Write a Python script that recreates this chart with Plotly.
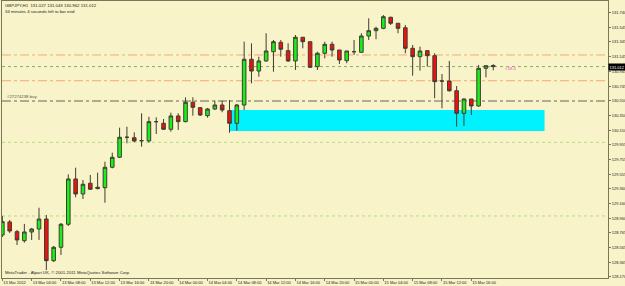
import plotly.graph_objects as go
import pandas as pd

# ---------------- data (GBPJPY H1) ----------------
start_time = "2012-03-13 00:00"
opens = [128.737, 128.913, 128.782, 128.660, 128.778, 128.818, 128.953, 128.390, 128.571, 128.882,
         129.494, 129.291, 129.436, 129.363, 129.376, 129.652, 129.787, 130.057, 130.051, 130.011,
         130.007, 130.268, 130.246, 130.165, 130.345, 130.268, 130.530, 130.457, 130.349, 130.439,
         130.493, 130.416, 130.246, 130.493, 131.111, 130.952, 131.088, 131.213, 131.340, 131.227,
         131.088, 131.408, 131.348, 131.011, 131.192, 131.313, 131.236, 131.092, 131.213, 131.205,
         131.425, 131.497, 131.529, 131.678, 131.597, 131.537, 131.259, 131.146, 131.227, 131.159,
         130.817, 130.817, 130.686, 130.381, 130.574, 130.480, 130.989, 131.027]
highs = [128.994, 128.940, 128.805, 128.886, 128.832, 129.106, 129.007, 128.589, 128.899, 129.557,
         129.646, 129.480, 129.548, 129.579, 129.727, 129.849, 130.187, 130.200, 130.124, 130.381,
         130.335, 130.327, 130.304, 130.389, 130.381, 130.597, 130.597, 130.466, 130.453, 130.551,
         130.551, 130.561, 130.507, 131.348, 131.327, 131.146, 131.462, 131.371, 131.371, 131.327,
         131.439, 131.408, 131.348, 131.213, 131.348, 131.348, 131.236, 131.223, 131.371, 131.462,
         131.664, 131.551, 131.709, 131.686, 131.597, 131.574, 131.304, 131.281, 131.236, 131.192,
         130.912, 131.088, 130.750, 130.584, 130.574, 131.034, 131.024, 131.043]
lows = [128.710, 128.764, 128.602, 128.633, 128.670, 128.670, 128.264, 128.372, 128.467, 128.859,
        129.246, 129.223, 129.345, 129.355, 129.173, 129.638, 129.777, 129.976, 129.989, 129.930,
        129.984, 130.101, 130.156, 130.133, 130.156, 130.260, 130.349, 130.345, 130.322, 130.426,
        130.395, 130.119, 130.146, 130.426, 130.786, 130.875, 131.078, 130.943, 131.146, 131.074,
        130.966, 131.259, 130.993, 130.966, 131.124, 131.146, 131.047, 131.057, 131.169, 131.200,
        131.371, 131.381, 131.516, 131.574, 131.462, 131.192, 130.889, 130.957, 131.011, 130.584,
        130.449, 130.673, 130.200, 130.210, 130.358, 130.470, 130.867, 130.962]
closes = [128.917, 128.791, 128.670, 128.778, 128.818, 128.953, 128.390, 128.571, 128.882, 129.494,
          129.291, 129.422, 129.355, 129.382, 129.652, 129.787, 130.057, 130.057, 130.007, 130.011,
          130.268, 130.268, 130.165, 130.345, 130.268, 130.530, 130.462, 130.358, 130.439, 130.493,
          130.426, 130.246, 130.493, 131.111, 130.952, 131.088, 131.223, 131.348, 131.246, 131.088,
          131.408, 131.348, 131.002, 131.192, 131.313, 131.236, 131.101, 131.223, 131.213, 131.425,
          131.497, 131.529, 131.686, 131.597, 131.529, 131.259, 131.146, 131.223, 131.159, 130.808,
          130.817, 130.686, 130.381, 130.574, 130.480, 130.989, 131.024, 131.012]

x_tick_hours = [0, 4, 8, 12, 16, 20, 24, 28, 32, 36, 40, 44, 48, 52, 56, 60, 64]
x_tick_labels = ["13 Mar 2012", "13 Mar 04:00", "13 Mar 08:00", "13 Mar 12:00", "13 Mar 16:00",
                 "13 Mar 20:00", "14 Mar 00:00", "14 Mar 04:00", "14 Mar 08:00", "14 Mar 12:00",
                 "14 Mar 16:00", "14 Mar 20:00", "15 Mar 00:00", "15 Mar 04:00", "15 Mar 08:00",
                 "15 Mar 12:00", "15 Mar 16:00"]
y_tick_values = [131.740, 131.545, 131.345, 131.145, 130.945, 130.745, 130.550, 130.350, 130.150,
                 129.955, 129.755, 129.555, 129.360, 129.160, 128.960, 128.765, 128.565, 128.365, 128.170]
y_tick_labels = ["%.3f" % v for v in y_tick_values]

current_price = 131.012
orange_levels = [131.169, 130.821]
order_level = 130.547
lightgreen_levels = [129.989, 128.994]
zone_low, zone_high = 130.142, 130.426
zone_start_hour, zone_end_hour = 31, 74

# ---------------- figure ----------------
t0 = pd.Timestamp(start_time)
times = pd.date_range(t0, periods=len(opens), freq="h")
hour = pd.Timedelta(hours=1)

BG = "#F8F3C8"
FRAME = "#77775A"
FONT = "Liberation Sans"

fig = go.Figure()

# demand zone rectangle
fig.add_shape(type="rect", xref="x", yref="y",
              x0=t0 + zone_start_hour * hour, x1=t0 + zone_end_hour * hour,
              y0=zone_low, y1=zone_high, fillcolor="#00F2FF", line=dict(width=0), layer="below")

line_shapes = []
for lv in orange_levels:
    line_shapes.append(dict(y=lv, color="#F5A878", dash="dashdot", width=1))
line_shapes.append(dict(y=order_level, color="#666655", dash="dashdot", width=1))
for lv in lightgreen_levels:
    line_shapes.append(dict(y=lv, color="#B5DA85", dash="dot", width=1))
line_shapes.append(dict(y=current_price, color="#7FAF6A", dash="dot", width=1))
for s in line_shapes:
    fig.add_shape(type="line", xref="paper", yref="y", x0=0, x1=1, y0=s["y"], y1=s["y"],
                  line=dict(color=s["color"], dash=s["dash"], width=s["width"]), layer="below")

fig.add_trace(go.Candlestick(
    x=times, open=opens, high=highs, low=lows, close=closes,
    increasing=dict(line=dict(color="#3E3E30", width=1), fillcolor="#19F019"),
    decreasing=dict(line=dict(color="#3E3E30", width=1), fillcolor="#F01010"),
    whiskerwidth=0, hoverinfo="skip", showlegend=False,
))

fig.update_layout(
    width=625, height=286,
    margin=dict(l=2, r=17, t=1, b=8, autoexpand=False),
    paper_bgcolor=BG, plot_bgcolor=BG,
    showlegend=False,
    font=dict(family=FONT, size=4, color="#222222"),
    xaxis=dict(
        type="date",
        range=[t0 - 0.05 * hour, t0 + 82.66 * hour],
        rangeslider=dict(visible=False),
        tickvals=[t0 + h * hour for h in x_tick_hours],
        ticktext=x_tick_labels,
        tickangle=0, automargin=False,
        ticks="outside", ticklen=2, tickcolor=FRAME,
        ticklabelposition="outside right",
        tickfont=dict(size=4, family=FONT, color="#222222"),
        showgrid=False, zeroline=False,
        showline=True, linecolor=FRAME, linewidth=1, mirror=True,
        fixedrange=True,
    ),
    yaxis=dict(
        side="right",
        range=[128.156, 131.898],
        tickvals=y_tick_values, ticktext=y_tick_labels,
        automargin=False,
        ticks="outside", ticklen=2, tickcolor=FRAME,
        tickfont=dict(size=4, family=FONT, color="#222222"),
        showgrid=False, zeroline=False,
        showline=True, linecolor=FRAME, linewidth=1, mirror=True,
        fixedrange=True,
    ),
)

ann = [
    dict(text="GBPJPY,H1  131.027 131.043 130.962 131.012", xref="paper", yref="paper",
         x=0.002, y=0.999, xanchor="left", yanchor="top", showarrow=False,
         font=dict(size=4.3, family=FONT, color="#222222")),
    dict(text="34 minutes 4 seconds left to bar end", xref="paper", yref="paper",
         x=0.002, y=0.978, xanchor="left", yanchor="top", showarrow=False,
         font=dict(size=4.3, family=FONT, color="#222222")),
    dict(text="MetaTrader - Alpari UK, \u00a9 2001-2011 MetaQuotes Software Corp.", xref="paper", yref="paper",
         x=0.002, y=0.003, xanchor="left", yanchor="bottom", showarrow=False,
         font=dict(size=4.3, family=FONT, color="#222222")),
    dict(text="#27274238 buy", xref="paper", yref="y",
         x=0.005, y=order_level, xanchor="left", yanchor="bottom", showarrow=False,
         font=dict(size=4.3, family=FONT, color="#555544")),
    dict(text="&lt;38.4", xref="x", yref="y",
         x=t0 + 68.3 * hour, y=current_price - 0.03, xanchor="left", yanchor="middle", showarrow=False,
         font=dict(size=4.3, family=FONT, color="#F050D0")),
    dict(text="%.3f" % current_price, xref="paper", yref="y",
         x=1.0, y=current_price, xanchor="left", yanchor="middle", showarrow=False,
         bgcolor="#000000", borderpad=0.5,
         font=dict(size=4, family=FONT, color="#FFFFFF")),
]
fig.update_layout(annotations=ann)

fig.write_html("out.html")
